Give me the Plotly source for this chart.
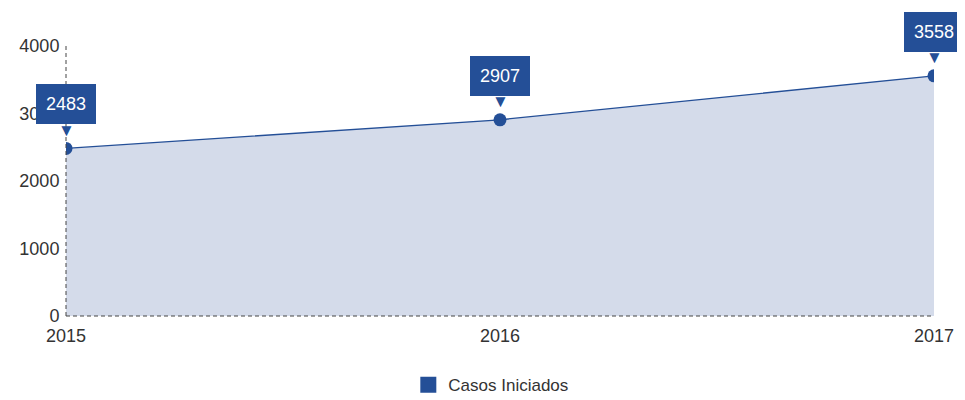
import plotly.graph_objects as go

years = [2015, 2016, 2017]
casos = [2483, 2907, 3558]
series_name = "Casos Iniciados"

DARK = "#244f97"
FILL = "rgba(176,190,217,0.55)"
FONT = "Liberation Sans, Arial"

fig = go.Figure()

fig.add_trace(go.Scatter(
    x=years, y=casos,
    mode="lines+markers",
    fill="tozeroy",
    fillcolor=FILL,
    line=dict(color=DARK, width=1.3),
    marker=dict(color=DARK, size=13),
    showlegend=False,
    hoverinfo="skip",
))

# legend entry drawn as a square
fig.add_trace(go.Scatter(
    x=[None], y=[None], mode="markers",
    marker=dict(symbol="square", size=16, color=DARK),
    name=series_name,
))

# callout labels over each point
for x, y in zip(years, casos):
    fig.add_annotation(
        x=x, y=y, text=str(y), showarrow=False,
        yshift=44, yanchor="middle",
        font=dict(color="white", size=18, family=FONT),
        bgcolor=DARK, bordercolor=DARK, borderpad=9,
    )
    fig.add_annotation(
        x=x, y=y, text="▼", showarrow=False,
        yshift=18, yanchor="middle",
        font=dict(color=DARK, size=17),
    )

# dashed axis lines
fig.add_shape(type="line", xref="x domain", yref="y domain",
              x0=0, x1=0, y0=0, y1=1,
              line=dict(color="#444", width=1, dash="4px,3px"))
fig.add_shape(type="line", xref="x domain", yref="y domain",
              x0=0, x1=1, y0=0, y1=0,
              line=dict(color="#444", width=1, dash="4px,3px"))

# page body adds an 8px margin, so the figure is 8px smaller each way
fig.update_layout(
    width=957, height=392,
    margin=dict(l=58, r=31, t=38, b=84, autoexpand=False),
    paper_bgcolor="white", plot_bgcolor="white",
    font=dict(family=FONT, size=18, color="#333"),
    xaxis=dict(range=[2015, 2017], tickvals=years, showgrid=False,
               zeroline=False, showline=False, ticks="outside", ticklen=3,
               tickcolor="rgba(0,0,0,0)", automargin=False),
    yaxis=dict(range=[0, 4000], tickvals=[0, 1000, 2000, 3000, 4000],
               showgrid=False, zeroline=False, showline=False,
               ticks="outside", ticklen=2, tickcolor="rgba(0,0,0,0)",
               automargin=False),
    legend=dict(orientation="h", x=0.49, xanchor="center", y=-0.256,
                yanchor="middle", font=dict(size=17, color="#333")),
    hovermode=False,
)

fig.write_html("out.html")
